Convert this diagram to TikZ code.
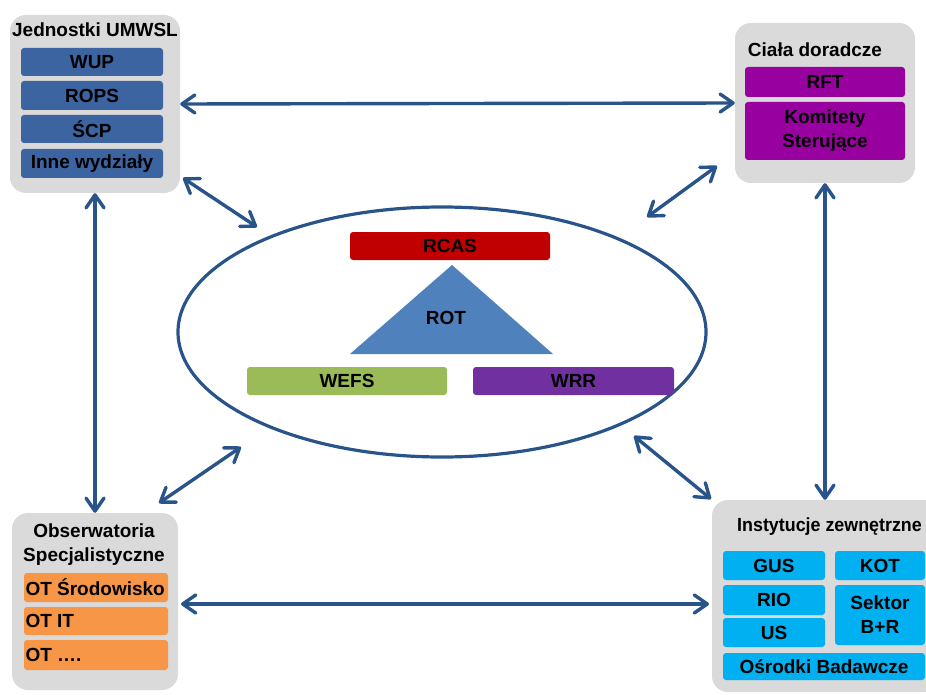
\documentclass[tikz,border=0pt]{standalone}
\usepackage{fontspec}
\setmainfont{Liberation Sans}
\usetikzlibrary{arrows.meta,shapes.geometric}

\definecolor{panelgray}{RGB}{218,218,218}
\definecolor{linkblue}{RGB}{41,84,138}
\definecolor{unitblue}{RGB}{59,100,160}
\definecolor{advpurple}{RGB}{153,0,160}
\definecolor{obsorange}{RGB}{247,150,70}
\definecolor{extcyan}{RGB}{0,176,240}
\definecolor{rcasred}{RGB}{192,0,0}
\definecolor{rotblue}{RGB}{79,129,189}
\definecolor{wefsgreen}{RGB}{155,187,89}
\definecolor{wrrpurple}{RGB}{112,48,160}

\begin{document}
\begin{tikzpicture}[x=1pt,y=-1pt,
  font=\fontsize{19}{21}\selectfont\bfseries,
  panel/.style={fill=panelgray, rounded corners=16pt, inner sep=0pt},
  bar/.style={rounded corners=3pt, inner sep=0pt, text=black, align=center},
  title/.style={inner sep=0pt, text=black, align=center},
  link/.style={draw=linkblue, line width=3.4pt,
    {Straight Barb[length=13pt,width=18pt,round]}-{Straight Barb[length=13pt,width=18pt,round]}}
]
\useasboundingbox (0,0) rectangle (926,695);

% ---- Jednostki UMWSL ----
\node[panel, minimum width=170pt, minimum height=178pt] (jed) at (95,104) {};
\node[title] (jedT) at (95,30) {Jednostki UMWSL};
\node[bar, fill=unitblue, minimum width=142pt, minimum height=28pt] (wup)  at (92,62)    {WUP};
\node[bar, fill=unitblue, minimum width=142pt, minimum height=29pt] (rops) at (92,95.5)  {ROPS};
\node[bar, fill=unitblue, minimum width=142pt, minimum height=28pt] (scp)  at (92,129)   {ŚCP};
\node[bar, fill=unitblue, minimum width=142pt, minimum height=29pt] (inne) at (92,163.5) {Inne wydziały};

% ---- Ciała doradcze ----
\node[panel, minimum width=180pt, minimum height=160pt] (cia) at (825,103) {};
\node[title] (ciaT) at (815,50) {Ciała doradcze};
\node[bar, fill=advpurple, minimum width=160pt, minimum height=30pt] (rft) at (825,82) {RFT};
\node[bar, fill=advpurple, minimum width=160pt, minimum height=58pt] (kom) at (825,131) {Komitety\\[3pt]Sterujące};

% ---- Obserwatoria Specjalistyczne ----
\node[panel, minimum width=166pt, minimum height=177pt] (obs) at (95,601.5) {};
\node[title] (obsT) at (94,545) {Obserwatoria\\[3pt]Specjalistyczne};
\node[bar, fill=obsorange, minimum width=144pt, minimum height=29pt] (ot1) at (96,587.5) {\makebox[141pt][l]{OT Środowisko}};
\node[bar, fill=obsorange, minimum width=144pt, minimum height=28pt] (ot2) at (96,621)   {\makebox[141pt][l]{OT IT}};
\node[bar, fill=obsorange, minimum width=144pt, minimum height=30pt] (ot3) at (96,655)   {\makebox[141pt][l]{OT ….}};

% ---- Instytucje zewnętrzne ----
\node[panel, minimum width=228pt, minimum height=192pt] (ins) at (826,596) {};
\node[title, anchor=west] (insT) at (737,527) {\scalebox{0.94}[1]{Instytucje zewnętrzne}};
\node[bar, fill=extcyan, minimum width=102pt, minimum height=29pt] (gus) at (774,565.5) {GUS};
\node[bar, fill=extcyan, minimum width=90pt,  minimum height=29pt] (kot) at (880,565.5) {KOT};
\node[bar, fill=extcyan, minimum width=102pt, minimum height=30pt] (rio) at (774,600)   {RIO};
\node[bar, fill=extcyan, minimum width=102pt, minimum height=29pt] (us)  at (774,632.5) {US};
\node[bar, fill=extcyan, minimum width=90pt,  minimum height=60pt] (sek) at (880,615)   {Sektor\\[3pt]B+R};
\node[bar, fill=extcyan, minimum width=202pt, minimum height=27pt] (osr) at (824,666.5) {Ośrodki Badawcze};

% ---- central group ----
\node[ellipse, draw=linkblue, line width=3.2pt, minimum width=528pt, minimum height=250pt] (core) at (442,332) {};
\node[bar, fill=rcasred, minimum width=200pt, minimum height=28pt] (rcas) at (450,246) {RCAS};
\fill[rotblue] (452,265) -- (553,354) -- (350,354) -- cycle;
\node[title] (rot) at (446,318) {ROT};
\node[bar, fill=wefsgreen, minimum width=200pt, minimum height=28pt] (wefs) at (347,381)   {WEFS};
\node[bar, fill=wrrpurple, minimum width=201pt, minimum height=28pt] (wrr)  at (573.5,381) {WRR};

% ---- links ----
\coordinate (tlA) at (183,178);
\coordinate (tlB) at (257,227);
\coordinate (trA) at (717,166);
\coordinate (trB) at (647,217);
\coordinate (blA) at (159,503);
\coordinate (blB) at (241,447);
\coordinate (brA) at (634,436);
\coordinate (brB) at (711,499);
\coordinate (botL) at (181,604);
\coordinate (botR) at (709,604);

\draw[link] (jed.east) -- (cia.west);
\draw[link] (jed.south) -- (obs.north);
\draw[link] (cia.south) -- (ins.north -| cia.south);
\draw[link] (botL) -- (botR);
\draw[link] (tlA) -- (tlB);
\draw[link] (trA) -- (trB);
\draw[link] (blA) -- (blB);
\draw[link] (brA) -- (brB);
\end{tikzpicture}
\end{document}
